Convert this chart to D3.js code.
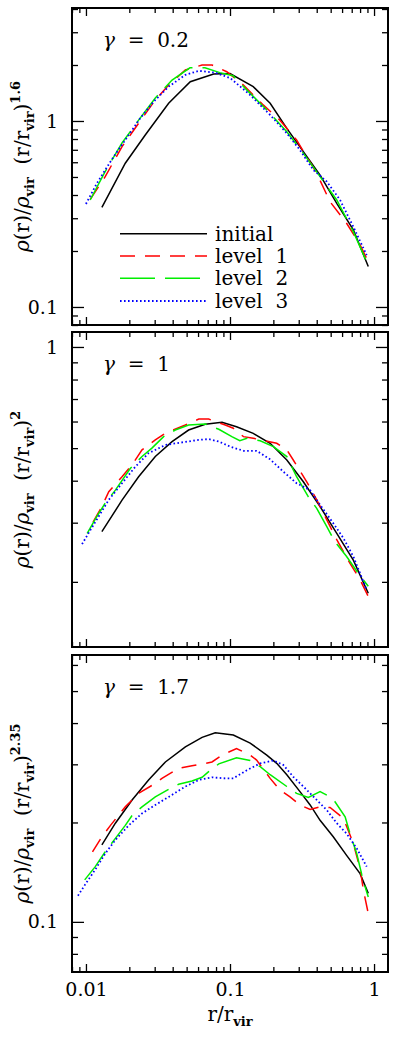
<!DOCTYPE html>
<html>
<head>
<meta charset="utf-8">
<script src="https://cdn.jsdelivr.net/npm/d3@7"></script>
<style>
  body { margin: 0; background: #fff; }
  svg { display: block; }
</style>
</head>
<body>
<div id="chart"></div>
<script>
/** DATA */
// panel 1: gamma = 0.2
const p1InitR = [0.0129,0.01875,0.0258,0.0375,0.053,0.077,0.1,0.145,0.19,0.248,0.323,0.422,0.551,0.718,0.912];
const p1InitV = [0.343,0.593,0.841,1.245,1.626,1.79,1.80,1.53,1.245,0.913,0.684,0.512,0.361,0.26,0.165];
const p1L1R = [0.0107,0.0136,0.0178,0.0232,0.0303,0.0375,0.049,0.064,0.075,0.095,0.124,0.170,0.222,0.290,0.40,0.495,0.645,0.80,0.912];
const p1L1V = [0.379,0.502,0.728,0.972,1.297,1.56,1.88,2.0,2.0,1.84,1.56,1.22,1.01,0.79,0.523,0.368,0.282,0.216,0.175];
const p1L2R = [0.0107,0.01355,0.0178,0.0232,0.0303,0.0396,0.0527,0.067,0.085,0.105,0.1306,0.18,0.248,0.323,0.422,0.551,0.718,0.889];
const p1L2V = [0.376,0.532,0.762,1.01,1.33,1.66,1.93,1.93,1.82,1.75,1.47,1.146,0.876,0.67,0.502,0.376,0.254,0.175];
const p1L3R = [0.01,0.0119,0.0136,0.01557,0.01875,0.0238,0.0295,0.0375,0.049,0.0607,0.079,0.1005,0.138,0.19,0.248,0.306,0.379,0.47,0.581,0.718,0.889];
const p1L3V = [0.358,0.462,0.545,0.643,0.79,1.034,1.27,1.53,1.77,1.86,1.82,1.70,1.38,1.077,0.859,0.698,0.545,0.472,0.376,0.27,0.19];

// panel 2: gamma = 1
const p2InitR = [0.0129,0.0178,0.0232,0.0303,0.0396,0.0516,0.0673,0.088,0.111,0.145,0.19,0.248,0.323,0.422,0.551,0.718,0.912];
const p2InitV = [0.282,0.35,0.411,0.472,0.523,0.566,0.589,0.597,0.579,0.553,0.517,0.461,0.397,0.335,0.279,0.232,0.185];
const p2L1R = [0.0112,0.0129,0.0144,0.0178,0.0209,0.0245,0.0303,0.0356,0.049,0.0607,0.0711,0.0927,0.1054,0.124,0.145,0.211,0.248,0.275,0.341,0.40,0.47,0.551,0.681,0.80,0.912];
const p2L1V = [0.301,0.335,0.371,0.411,0.446,0.494,0.529,0.554,0.586,0.61,0.61,0.586,0.573,0.541,0.535,0.517,0.494,0.461,0.397,0.351,0.306,0.267,0.227,0.203,0.181];
const p2L2R = [0.0102,0.0119,0.0136,0.016,0.0203,0.0245,0.0287,0.0346,0.0417,0.0516,0.0673,0.0836,0.103,0.117,0.131,0.162,0.20,0.248,0.29,0.35,0.40,0.47,0.536,0.645,0.778,0.912];
const p2L2V = [0.279,0.313,0.343,0.375,0.435,0.472,0.50,0.541,0.566,0.586,0.59,0.569,0.541,0.526,0.535,0.526,0.505,0.472,0.411,0.358,0.331,0.292,0.263,0.238,0.212,0.194];
const p2L3R = [0.0094,0.0104,0.01225,0.0144,0.0178,0.022,0.0272,0.0356,0.0464,0.0607,0.0711,0.0836,0.1005,0.124,0.153,0.19,0.234,0.29,0.36,0.422,0.521,0.612,0.718,0.80,0.889];
const p2L3V = [0.259,0.279,0.313,0.351,0.393,0.44,0.483,0.511,0.52,0.529,0.532,0.523,0.505,0.491,0.491,0.463,0.426,0.393,0.375,0.339,0.299,0.27,0.238,0.212,0.189];

// panel 3: gamma = 1.7
const p3InitR = [0.0129,0.016,0.0209,0.0272,0.0356,0.049,0.064,0.079,0.1054,0.138,0.18,0.211,0.248,0.306,0.36,0.422,0.521,0.645,0.80,0.912];
const p3InitV = [0.171,0.199,0.234,0.269,0.305,0.339,0.362,0.374,0.368,0.348,0.32,0.302,0.279,0.248,0.226,0.203,0.181,0.159,0.14,0.122];
const p3L1R = [0.0111,0.0129,0.0148,0.01875,0.0232,0.0287,0.0337,0.044,0.0545,0.0673,0.075,0.088,0.111,0.138,0.153,0.19,0.222,0.261,0.306,0.36,0.422,0.495,0.612,0.718,0.80,0.843,0.912];
const p3L1V = [0.163,0.181,0.196,0.223,0.245,0.259,0.272,0.292,0.297,0.302,0.305,0.32,0.335,0.32,0.309,0.272,0.251,0.239,0.226,0.219,0.223,0.222,0.206,0.173,0.145,0.125,0.106];
const p3L2R = [0.0098,0.0116,0.0136,0.016,0.01875,0.0209,0.0245,0.0303,0.0375,0.044,0.0545,0.064,0.0711,0.0836,0.111,0.138,0.162,0.19,0.248,0.29,0.35,0.422,0.47,0.536,0.63,0.681,0.758,0.822,0.866,0.912];
const p3L2V = [0.134,0.147,0.163,0.179,0.196,0.21,0.223,0.239,0.252,0.261,0.267,0.274,0.285,0.301,0.314,0.308,0.295,0.279,0.257,0.245,0.238,0.248,0.242,0.231,0.208,0.185,0.161,0.139,0.128,0.119];
const p3L3R = [0.0088,0.0099,0.0116,0.0136,0.016,0.0198,0.0245,0.0303,0.0375,0.049,0.0607,0.075,0.0927,0.1054,0.131,0.162,0.20,0.234,0.275,0.323,0.40,0.47,0.551,0.645,0.758,0.889];
const p3L3V = [0.12,0.13,0.144,0.161,0.177,0.196,0.213,0.226,0.239,0.257,0.269,0.274,0.272,0.272,0.288,0.302,0.308,0.299,0.275,0.257,0.234,0.218,0.199,0.185,0.167,0.147];

const seriesNames = ["initial", "level 1", "level 2", "level 3"];
const gammaLabels = ["0.2", "1", "1.7"];
const powerLabels = ["1.6", "2", "2.35"];
const xTickLabels = [0.01, 0.1, 1];

/** CONSTANTS */
const width = 393, height = 1038;
const left = 72, right = 388;
const fontFam = "DejaVu Serif, serif";
const styles = [
  { color: "#000", dash: null },
  { color: "#ff0000", dash: "15,10" },
  { color: "#00ee00", dash: "35,10" },
  { color: "#0000ff", dash: "1.6,2.4" }
];

const panels = [
  { top: 8, bottom: 325, domain: [0.08, 4.05], gamma: gammaLabels[0], power: powerLabels[0],
    series: [[p1InitR, p1InitV], [p1L1R, p1L1V], [p1L2R, p1L2V], [p1L3R, p1L3V]] },
  { top: 332, bottom: 647, domain: [0.128, 1.108], gamma: gammaLabels[1], power: powerLabels[1],
    series: [[p2InitR, p2InitV], [p2L1R, p2L1V], [p2L2R, p2L2V], [p2L3R, p2L3V]] },
  { top: 655, bottom: 972, domain: [0.0705, 0.643], gamma: gammaLabels[2], power: powerLabels[2],
    series: [[p3InitR, p3InitV], [p3L1R, p3L1V], [p3L2R, p3L2V], [p3L3R, p3L3V]] }
];

const svg = d3.select("#chart").append("svg")
  .attr("width", width).attr("height", height);

const x = d3.scaleLog().domain([0.008, 1.25]).range([left, right]);

// log ticks 1..9 x 10^k inside a domain
function logTicks(dom) {
  const major = [], minor = [];
  for (let k = -3; k <= 1; k++) {
    for (let m = 1; m <= 9; m++) {
      const v = +(m * Math.pow(10, k)).toPrecision(3);
      if (v < dom[0] || v > dom[1]) continue;
      (m === 1 ? major : minor).push(v);
    }
  }
  return { major, minor };
}

function styleAxis(g) {
  g.select(".domain").remove();
  g.selectAll(".tick line").attr("stroke", "#000").attr("stroke-width", 1.3);
  g.selectAll(".tick text").attr("font-family", fontFam).attr("font-size", 19).attr("fill", "#000");
}

const xt = logTicks(x.domain());

panels.forEach((p, i) => {
  const y = d3.scaleLog().domain(p.domain).range([p.bottom, p.top]);
  const yt = logTicks(p.domain);
  const g = svg.append("g");

  // y axes (ticks point inward)
  g.append("g").attr("transform", `translate(${left},0)`)
    .call(d3.axisLeft(y).tickValues(yt.major).tickSize(-12).tickPadding(14).tickFormat(d => d3.format("~g")(d)))
    .call(styleAxis);
  g.append("g").attr("transform", `translate(${left},0)`)
    .call(d3.axisLeft(y).tickValues(yt.minor).tickSize(-6).tickFormat(""))
    .call(styleAxis);
  g.append("g").attr("transform", `translate(${right},0)`)
    .call(d3.axisRight(y).tickValues(yt.major).tickSize(-12).tickFormat(""))
    .call(styleAxis);
  g.append("g").attr("transform", `translate(${right},0)`)
    .call(d3.axisRight(y).tickValues(yt.minor).tickSize(-6).tickFormat(""))
    .call(styleAxis);

  // x axes
  const last = i === panels.length - 1;
  g.append("g").attr("transform", `translate(0,${p.bottom})`)
    .call(d3.axisBottom(x).tickValues(xt.major).tickSize(-8).tickPadding(last ? 11 : 0)
      .tickFormat(d => last && xTickLabels.includes(d) ? d3.format("~g")(d) : ""))
    .call(styleAxis);
  g.append("g").attr("transform", `translate(0,${p.bottom})`)
    .call(d3.axisBottom(x).tickValues(xt.minor).tickSize(-5).tickFormat(""))
    .call(styleAxis);
  g.append("g").attr("transform", `translate(0,${p.top})`)
    .call(d3.axisTop(x).tickValues(xt.major).tickSize(-8).tickFormat(""))
    .call(styleAxis);
  g.append("g").attr("transform", `translate(0,${p.top})`)
    .call(d3.axisTop(x).tickValues(xt.minor).tickSize(-5).tickFormat(""))
    .call(styleAxis);

  // curves
  const line = d3.line().x(d => x(d[0])).y(d => y(d[1]));
  p.series.forEach((s, j) => {
    const pts = s[0].map((r, k) => [r, s[1][k]]);
    g.append("path")
      .attr("d", line(pts))
      .attr("fill", "none")
      .attr("stroke", styles[j].color)
      .attr("stroke-width", j === 3 ? 1.8 : 1.5)
      .attr("stroke-dasharray", styles[j].dash);
  });

  // frame
  g.append("rect")
    .attr("x", left).attr("y", p.top)
    .attr("width", right - left).attr("height", p.bottom - p.top)
    .attr("fill", "none").attr("stroke", "#000").attr("stroke-width", 2);

  // gamma label
  const gl = g.append("text")
    .attr("x", 103).attr("y", p.top + 39)
    .attr("font-family", fontFam).attr("font-size", 20)
    .style("white-space", "pre");
  gl.append("tspan").attr("font-style", "italic").text("γ");
  gl.append("tspan").text(`  =  ${p.gamma}`);

  // y label
  const yl = g.append("text")
    .attr("transform", `translate(29,${(p.top + p.bottom) / 2}) rotate(-90)`)
    .attr("text-anchor", "middle")
    .attr("font-family", fontFam).attr("font-size", 20)
    .style("white-space", "pre");
  yl.append("tspan").attr("font-style", "italic").text("ρ");
  yl.append("tspan").text("(r)/");
  yl.append("tspan").attr("font-style", "italic").text("ρ");
  yl.append("tspan").attr("dy", 5).attr("font-size", 13).attr("font-weight", "bold").text("vir");
  yl.append("tspan").attr("dy", -5).text("  (r/r");
  yl.append("tspan").attr("dy", 5).attr("font-size", 13).attr("font-weight", "bold").text("vir");
  yl.append("tspan").attr("dy", -5).text(")");
  yl.append("tspan").attr("dy", -9).attr("font-size", 13).attr("font-weight", "bold").text(p.power);

  // legend in first panel
  if (i === 0) {
    const ly = [233.7, 256, 278.3, 301];
    seriesNames.forEach((name, j) => {
      g.append("line")
        .attr("x1", 120).attr("x2", 207).attr("y1", ly[j]).attr("y2", ly[j])
        .attr("stroke", styles[j].color)
        .attr("stroke-width", j === 3 ? 1.8 : 1.5)
        .attr("stroke-dasharray", styles[j].dash);
      g.append("text")
        .attr("x", 215).attr("y", ly[j] + 7)
        .attr("font-family", fontFam).attr("font-size", 20)
        .style("white-space", "pre")
        .text(name.replace(" ", "  "));
    });
  }
});

// x label
const xl = svg.append("text")
  .attr("x", (left + right) / 2).attr("y", 1021)
  .attr("text-anchor", "middle")
  .attr("font-family", fontFam).attr("font-size", 20);
xl.append("tspan").text("r/r");
xl.append("tspan").attr("dy", 5).attr("font-size", 13).attr("font-weight", "bold").text("vir");
</script>
</body>
</html>
